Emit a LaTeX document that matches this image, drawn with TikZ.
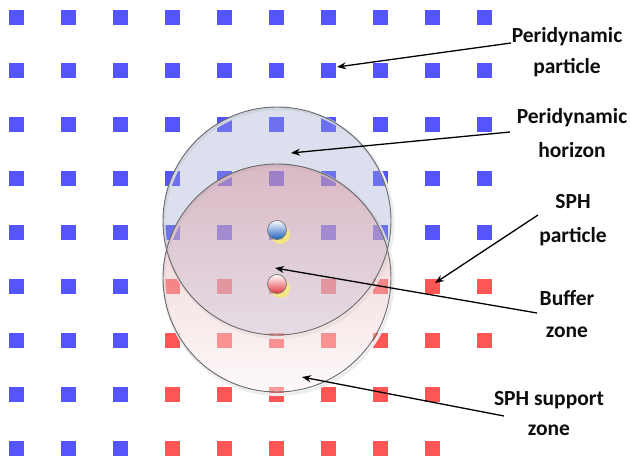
\documentclass[tikz,border=0pt]{standalone}
\usepackage{fontspec}
\setmainfont{Carlito}
\usetikzlibrary{arrows.meta}
\definecolor{pdblue}{RGB}{85,85,255}
\definecolor{sphred}{RGB}{255,85,85}
\definecolor{hzfill}{RGB}{155,166,204}
\definecolor{sptop}{RGB}{214,141,150}
\definecolor{spbot}{RGB}{252,242,242}
\definecolor{outl}{RGB}{105,105,105}
\definecolor{bblue}{RGB}{30,95,190}
\definecolor{bred}{RGB}{230,55,65}
\definecolor{shadowy}{RGB}{250,238,110}
\begin{document}
\begin{tikzpicture}[x=1pt,y=-1pt,
  sq/.style={rectangle, minimum size=15pt, inner sep=0pt, draw=none},
  bsq/.style={sq, fill=pdblue},
  rsq/.style={sq, fill=sphred},
  zone/.style={circle, minimum size=228pt, inner sep=0pt, draw=none},
  zoneline/.style={draw=outl, line width=0.9pt},
  glow/.style={draw=black!7, line width=3pt},
  ball/.style={circle, minimum size=19pt, inner sep=0pt, draw=black!55, line width=0.7pt, top color=white},
  ballshadow/.style={circle, minimum size=19pt, inner sep=0pt, fill=shadowy, fill opacity=0.8},
  lbl/.style={font=\fontsize{21.5}{30}\selectfont\bfseries, align=center, inner sep=0pt, anchor=north, text=black!95},
  arr/.style={-{Stealth[length=9pt,width=7pt]}, line width=1.3pt, black}
]
\useasboundingbox (0,0) rectangle (630,461);
\fill[white] (0,0) rectangle (630,461);
% particles
\foreach \j in {0,...,4}{
  \foreach \i in {0,...,9}{
    \node[bsq] (s\i-\j) at ({16+52*\i},{17+53.875*\j}) {};
  }
}
\foreach \j in {5,...,8}{
  \foreach \i in {0,...,2}{
    \node[bsq] (s\i-\j) at ({16+52*\i},{17+53.875*\j}) {};
  }
}
\foreach \j in {5,6}{
  \foreach \i in {3,...,9}{
    \node[rsq] (s\i-\j) at ({16+52*\i},{17+53.875*\j}) {};
  }
}
\foreach \j in {7,8}{
  \foreach \i in {3,...,8}{
    \node[rsq] (s\i-\j) at ({16+52*\i},{17+53.875*\j}) {};
  }
}
% zones
\draw[glow] (278.5,223) circle (114.5pt);
\draw[glow] (278.5,280) circle (114.5pt);
\node[zone, fill=hzfill, fill opacity=0.35] (hz) at (277,221) {};
\node[zone, top color=sptop, bottom color=spbot, fill opacity=0.45] (sz) at (277,278) {};
\draw[zoneline] (hz) circle (114pt);
\draw[zoneline] (sz) circle (114pt);
% particles at centre
\node[ballshadow] (pbs) at (280.5,234.5) {};
\node[ball, bottom color=bblue] (pb) at (277,230) {};
\node[ballshadow] (rbs) at (280.5,288.5) {};
\node[ball, bottom color=bred] (rb) at (277,284) {};
% labels
\node[lbl] (l1) at (567,27) {Peridynamic\\[1pt]particle};
\node[lbl] (l2) at (572,108) {Peridynamic\\[4pt]horizon};
\node[lbl] (l3) at (573,194) {SPH\\[4pt]particle};
\node[lbl] (l4) at (567,290) {Buffer\\[2pt]zone};
\node[lbl] (l5) at (549,391) {SPH support\\zone};
% arrows
\coordinate (a1s) at (511,43);  \coordinate (a1e) at (337,67);
\coordinate (a2s) at (510,132); \coordinate (a2e) at (291,153);
\coordinate (a3s) at (538,215); \coordinate (a3e) at (435,283);
\coordinate (a4s) at (537,313); \coordinate (a4e) at (275,268);
\coordinate (a5s) at (504,416); \coordinate (a5e) at (302,377);
\draw[arr] (a1s) -- (a1e);
\draw[arr] (a2s) -- (a2e);
\draw[arr] (a3s) -- (a3e);
\draw[arr] (a4s) -- (a4e);
\draw[arr] (a5s) -- (a5e);
\end{tikzpicture}
\end{document}
